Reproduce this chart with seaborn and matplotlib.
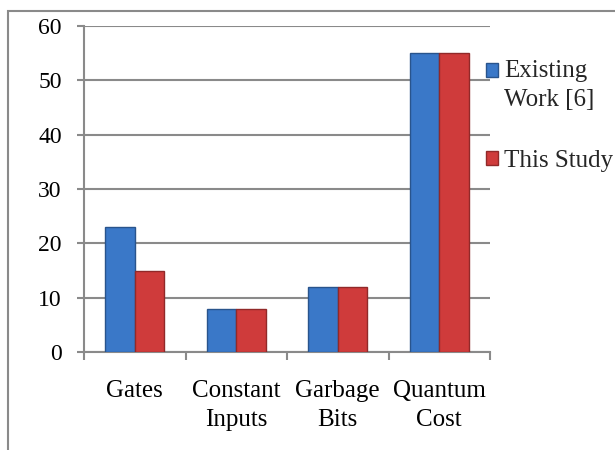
import matplotlib; matplotlib.use('Agg')
import pandas as pd
import numpy as np
import matplotlib.pyplot as plt
import seaborn as sns
from matplotlib.patches import Rectangle

categories = ['Gates', 'Constant\nInputs', 'Garbage\nBits', 'Quantum\nCost']
series_names = ['Existing\nWork [6]', 'This Study']
existing_work = [23, 8, 12, 55]
this_study = [15, 8, 12, 55]
y_ticks = [0, 10, 20, 30, 40, 50, 60]

# long format for seaborn
df = pd.DataFrame({
    'category': categories * 2,
    'series': [series_names[0]] * 4 + [series_names[1]] * 4,
    'value': existing_work + this_study,
})

sns.set_theme(style='white')
plt.rcParams['font.family'] = ['Liberation Serif', 'DejaVu Serif']
plt.rcParams['font.size'] = 18

grid_col = '#8a8a8a'
palette = {series_names[0]: '#3a78c8', series_names[1]: '#cf3b3b'}

fig = plt.figure(figsize=(6.15, 4.5), dpi=100)
ax = fig.add_axes([84 / 615, 1 - 352 / 450, (490 - 84) / 615, (352 - 26) / 450])

sns.barplot(data=df, x='category', y='value', hue='series', palette=palette,
            width=0.58, saturation=1, ax=ax, zorder=3)

# darker edges to hint at the bevelled look
for bar in ax.patches:
    c = np.array(matplotlib.colors.to_rgb(bar.get_facecolor()))
    bar.set_edgecolor(c * 0.7)
    bar.set_linewidth(1.0)

ax.set_ylim(0, 60)
ax.set_xlim(-0.5, 3.5)
ax.set_yticks(y_ticks)
ax.yaxis.grid(True, color=grid_col, linewidth=1.5, zorder=0)
ax.set_axisbelow(True)
ax.set_xlabel('')
ax.set_ylabel('')

for s in ['top', 'right']:
    ax.spines[s].set_visible(False)
for s in ['left', 'bottom']:
    ax.spines[s].set_color(grid_col)
    ax.spines[s].set_linewidth(1.5)

ax.tick_params(axis='y', which='major', left=True, length=5, width=1.5,
               color=grid_col, pad=11, labelsize=17, labelcolor='black')
ax.tick_params(axis='x', which='major', length=0, pad=20, labelsize=18,
               labelcolor='black')
ax.set_xticks(np.arange(-0.5, 4, 1), minor=True)
ax.tick_params(axis='x', which='minor', bottom=True, length=6, width=1.5,
               color=grid_col)
for lbl in ax.get_xticklabels():
    lbl.set_verticalalignment('top')
    lbl.set_linespacing(1.42)

leg = ax.legend(loc='upper left', bbox_to_anchor=(486 / 615, 1 - 60 / 450),
                bbox_transform=fig.transFigure, frameon=False, fontsize=18,
                handlelength=0.47, handleheight=0.52, handletextpad=0.24,
                labelspacing=1.55, borderpad=0, borderaxespad=0)
for t in leg.get_texts():
    t.set_linespacing(1.42)
# put the first swatch level with the first line of its label
h0 = leg.legend_handles[0]
h0.set_y(h0.get_y() + 11)

# outer chart frame
fig.patches.append(Rectangle((8 / 615, -0.1), 1.2, 1 - 11 / 450 + 0.1,
                             transform=fig.transFigure, fill=False,
                             edgecolor=grid_col, linewidth=1.5))

fig.savefig('out.png', dpi=100)
